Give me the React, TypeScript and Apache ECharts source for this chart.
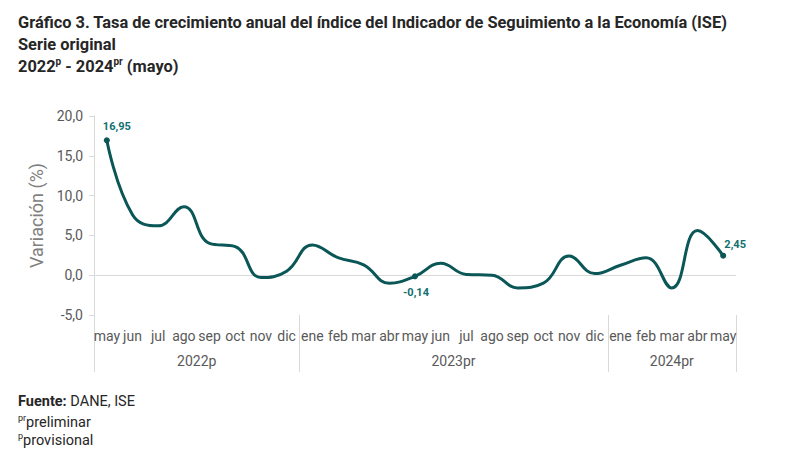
import React, { useEffect, useRef } from "react";
import * as echarts from "echarts";

const months = ["may","jun","jul","ago","sep","oct","nov","dic","ene","feb","mar","abr","may","jun","jul","ago","sep","oct","nov","dic","ene","feb","mar","abr","may"];
const values = [16.95, 7.6, 6.2, 8.6, 4.0, 3.6, -0.3, 0.5, 3.8, 2.2, 1.3, -1.0, -0.14, 1.5, 0.1, 0.0, -1.6, -1.0, 2.4, 0.2, 1.25, 2.2, -1.6, 5.6, 2.45];
const yearGroups = [
  { label: "2022p", start: 0, end: 7 },
  { label: "2023pr", start: 8, end: 19 },
  { label: "2024pr", start: 20, end: 24 },
];
const labeledPoints = [0, 12, 24];
const yTicks = { min: -5, max: 20, interval: 5 };

const LINE = "#0b5656";
const LABEL = "#11706f";
const GREY = "#595959";
const AXIS = "#d9d9d9";
const FONT = "'Roboto', 'Liberation Sans', sans-serif";

export default function App() {
  const ref = useRef<HTMLDivElement>(null);
  useEffect(() => {
    document.body.style.margin = "0";
    const chart = echarts.init(ref.current!, undefined, { renderer: "svg" });
    const fmt = (v: number) => v.toFixed(2).replace(".", ",");
    const data = values.map((v, i) => {
      if (!labeledPoints.includes(i)) return v;
      const item: any = { value: v, symbol: "circle", symbolSize: 6 };
      if (i === 0) item.label = { show: true, position: "top", distance: 5, offset: [10, 0] };
      else if (i === 12) item.label = { show: true, position: "bottom", distance: 8, offset: [1, 0] };
      else item.label = { show: true, position: "top", distance: 3, offset: [12, 0] };
      return item;
    });
    const titleGraphics: any[] = [
      { type: "text", id: "t1", left: 18, top: 14, style: { text: "Gráfico 3. Tasa de crecimiento anual del índice del Indicador de Seguimiento a la Economía (ISE)", font: `bold 16.4px ${FONT}`, fill: "#262626" } },
      { type: "text", id: "t2", left: 18, top: 36, style: { text: "Serie original", font: `bold 16.4px ${FONT}`, fill: "#262626" } },
      {
        type: "text", id: "t3", left: 18, top: 56,
        style: {
          text: "{a|2022}{s|p}{a| - 2024}{s|pr}{a| (mayo)}",
          rich: {
            a: { fontFamily: FONT, fontWeight: "bold", fontSize: 16.4, fill: "#262626", lineHeight: 21 },
            s: { fontFamily: FONT, fontWeight: "bold", fontSize: 10, fill: "#262626", verticalAlign: "top", lineHeight: 21 },
          },
        },
      },
      {
        type: "text", id: "f1", left: 18, top: 394,
        style: {
          text: "{b|Fuente:}{a| DANE, ISE}",
          rich: {
            b: { fontFamily: FONT, fontWeight: "bold", fontSize: 14.5, fill: "#262626", lineHeight: 18 },
            a: { fontFamily: FONT, fontSize: 14.5, fill: "#262626", lineHeight: 18 },
          },
        },
      },
      {
        type: "text", id: "f2", left: 18, top: 413,
        style: {
          text: "{s|pr}{a|preliminar}",
          rich: {
            s: { fontFamily: FONT, fontSize: 9, fill: "#262626", verticalAlign: "top", lineHeight: 18 },
            a: { fontFamily: FONT, fontSize: 14.5, fill: "#262626", lineHeight: 18 },
          },
        },
      },
      {
        type: "text", id: "f3", left: 18, top: 431,
        style: {
          text: "{s|p}{a|provisional}",
          rich: {
            s: { fontFamily: FONT, fontSize: 9, fill: "#262626", verticalAlign: "top", lineHeight: 18 },
            a: { fontFamily: FONT, fontSize: 14.5, fill: "#262626", lineHeight: 18 },
          },
        },
      },
    ];
    chart.setOption({
      animation: false,
      textStyle: { fontFamily: FONT },
      grid: { left: 94, right: 54, top: 116, bottom: 145 },
      xAxis: {
        type: "category",
        data: months,
        boundaryGap: true,
        axisLine: { show: false, onZero: false },
        axisTick: { show: false },
        axisLabel: { interval: 0, color: GREY, fontSize: 14, margin: 14, fontFamily: FONT },
      },
      yAxis: {
        type: "value",
        min: yTicks.min,
        max: yTicks.max,
        interval: yTicks.interval,
        name: "Variación (%)",
        nameLocation: "middle",
        nameGap: 48,
        nameTextStyle: { color: "#7f7f7f", fontSize: 18, fontFamily: FONT },
        axisLine: { show: true, lineStyle: { color: AXIS, width: 1 } },
        axisTick: { show: true, length: 5, lineStyle: { color: AXIS } },
        splitLine: { show: false },
        axisLabel: { color: GREY, fontSize: 14, margin: 11, fontFamily: FONT, formatter: (v: number) => v.toFixed(1).replace(".", ",") },
      },
      series: [
        {
          type: "line",
          data,
          smooth: 0.45,
          symbol: "none",
          showSymbol: true,
          lineStyle: { color: LINE, width: 3 },
          itemStyle: { color: LINE },
          label: { show: false, color: LABEL, fontWeight: "bold", fontSize: 11, fontFamily: FONT, formatter: (p: any) => fmt(p.value) },
          markLine: {
            silent: true,
            symbol: "none",
            label: { show: false },
            lineStyle: { color: AXIS, width: 1, type: "solid" },
            data: [{ yAxis: 0 }],
          },
          z: 5,
        },
      ],
      graphic: titleGraphics,
    });
    const x0 = chart.convertToPixel({ xAxisIndex: 0 }, 0) as number;
    const x1 = chart.convertToPixel({ xAxisIndex: 0 }, 1) as number;
    const step = x1 - x0;
    const yBottom = chart.convertToPixel({ yAxisIndex: 0 }, yTicks.min) as number;
    const extra: any[] = [];
    const bounds = [-0.5, ...yearGroups.map((g) => g.end + 0.5)];
    bounds.forEach((b, k) => {
      const x = Math.round(x0 + step * b) + 0.5;
      extra.push({ type: "line", id: "sep" + k, shape: { x1: x, y1: yBottom, x2: x, y2: yBottom + 57 }, style: { stroke: AXIS, lineWidth: 1 }, silent: true });
    });
    yearGroups.forEach((g, k) => {
      const cx = x0 + step * (g.start + g.end) / 2;
      extra.push({ type: "text", id: "yr" + k, x: cx, y: yBottom + 46, style: { text: g.label, font: `14px ${FONT}`, fill: GREY, textAlign: "center", textVerticalAlign: "middle" }, silent: true });
    });
    chart.setOption({ graphic: [...titleGraphics, ...extra] });
    return () => chart.dispose();
  }, []);
  return <div ref={ref} style={{ width: 790, height: 460 }} />;
}
